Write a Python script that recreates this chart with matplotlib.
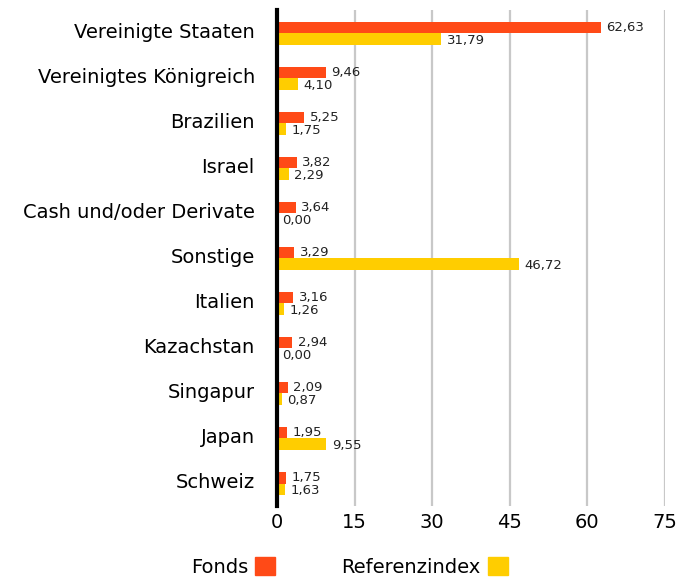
import numpy as np
import matplotlib
matplotlib.use("Agg")
import matplotlib.pyplot as plt
import matplotlib.transforms as mtransforms
from matplotlib.patches import Patch

plt.rcParams['font.family'] = ['DejaVu Sans']

categories = ["Vereinigte Staaten", "Vereinigtes Königreich", "Brazilien", "Israel",
              "Cash und/oder Derivate", "Sonstige", "Italien", "Kazachstan",
              "Singapur", "Japan", "Schweiz"]
fonds = [62.63, 9.46, 5.25, 3.82, 3.64, 3.29, 3.16, 2.94, 2.09, 1.95, 1.75]
referenz = [31.79, 4.10, 1.75, 2.29, 0.00, 46.72, 1.26, 0.00, 0.87, 9.55, 1.63]
xticks = [0, 15, 30, 45, 60, 75]

red = "#ff4a17"
yellow = "#ffcd00"

fig = plt.figure(figsize=(6.92, 5.83), dpi=100)
ax = fig.add_axes([0.4003, 0.132, 0.5607, 0.850])

y = np.arange(len(categories))
h = 0.255
ax.barh(y - h / 2, fonds, height=h, color=red, zorder=3)
ax.barh(y + h / 2, referenz, height=h, color=yellow, zorder=3)

def fmt(v):
    return f"{v:.2f}".replace(".", ",")

for yi, v in zip(y, fonds):
    ax.annotate(fmt(v), (v, yi - h / 2), xytext=(4, 0), textcoords="offset points",
                va="center", ha="left", fontsize=9.5, color="#222222", zorder=4)
for yi, v in zip(y, referenz):
    ax.annotate(fmt(v), (v, yi + h / 2), xytext=(4, -1), textcoords="offset points",
                va="center", ha="left", fontsize=9.5, color="#222222", zorder=4)

ax.set_xlim(0, 75)
ax.set_ylim(len(categories) - 0.5, -0.5)
ax.set_xticks(xticks)
ax.set_yticks(y)
ax.set_yticklabels(categories, fontsize=14)
ax.tick_params(axis="x", length=0, labelsize=14, pad=5)
ax.tick_params(axis="y", length=0, pad=16)
shift = mtransforms.ScaledTranslation(0, 2 / 72, fig.dpi_scale_trans)
for lbl in ax.get_yticklabels():
    lbl.set_transform(lbl.get_transform() + shift)
ax.xaxis.grid(True, color="#c8c8c8", linewidth=1.6, zorder=1)
for s in ax.spines.values():
    s.set_visible(False)
ax.axvline(0, color="black", linewidth=3, zorder=5, clip_on=False)

handles = [Patch(color=red, label="Fonds"), Patch(color=yellow, label="Referenzindex")]
fig.legend(handles=handles, loc="center", bbox_to_anchor=(0.505, 0.027), ncol=2,
           frameon=False, markerfirst=False, fontsize=14, handlelength=1.05,
           handleheight=1.05, handletextpad=0.35, columnspacing=3.4)

fig.savefig("out.png", dpi=100)
